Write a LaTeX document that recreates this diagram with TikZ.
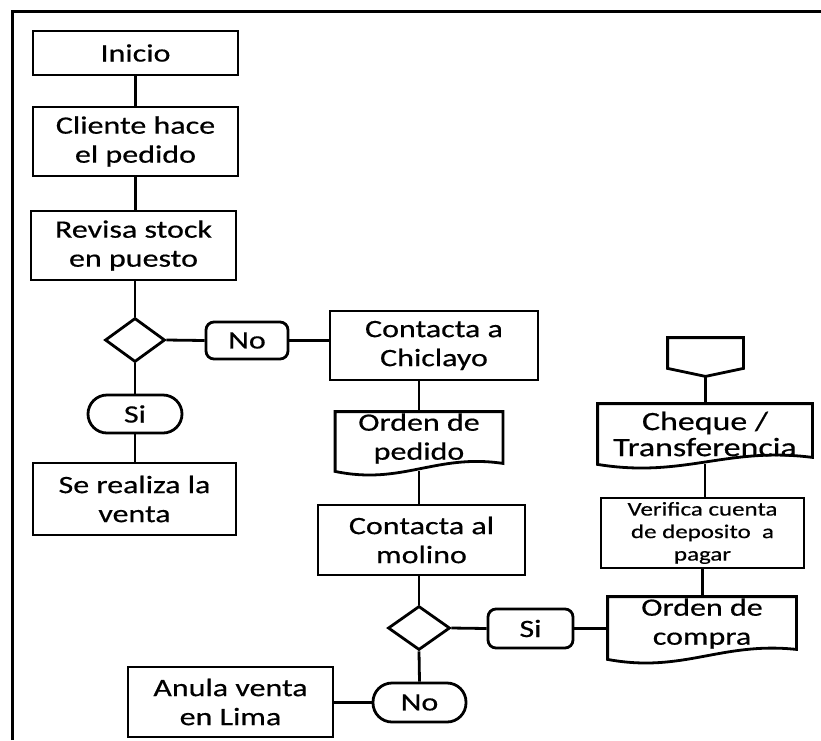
\documentclass[tikz,border=0pt]{standalone}
\usepackage{fontspec}
\setmainfont[FakeStretch=1.28,FakeBold=0.5]{Carlito}
\usetikzlibrary{shapes.geometric,calc}
\newcommand\mainsz{\fontsize{25}{29}\selectfont}
\newcommand\chqsz{\fontsize{26.5}{26}\selectfont}
\newcommand\versz{\fontsize{19.5}{22.5}\selectfont}
\newcommand\mydocshape[2]{%
  \draw (#1.south west) -- (#1.north west) -- (#1.north east) -- ($(#1.south east)+(0,-#2)$)
    .. controls ($(#1.south west)!0.6!(#1.south east)+(0,-18)$) and ($(#1.south west)!0.4!(#1.south east)+(0,14)$) .. (#1.south west) -- cycle;}
\begin{document}
\begin{tikzpicture}[x=1pt,y=-1pt,line width=2.8pt,
  box/.style={draw, rectangle, align=center, inner sep=0pt, font=\mainsz},
  docbox/.style={rectangle, align=center, inner sep=0pt, font=\mainsz},
  dec/.style={draw, diamond, inner sep=0pt, aspect=1.36},
  term/.style={draw, rectangle, rounded corners=19pt, align=center, inner sep=0pt, font=\mainsz, minimum height=38},
  lbl/.style={draw, rectangle, rounded corners=8pt, align=center, inner sep=0pt, font=\mainsz, minimum height=38}]
\useasboundingbox (0,0) rectangle (821,740);
% frame
\draw[line width=3pt] (12,740) -- (12,11) -- (821,11);

% left column
\node[box, minimum width=205, minimum height=44] (ini) at (135.5,53) {Inicio};
\node[box, minimum width=205, minimum height=69] (cli) at (135.5,141.5) {Cliente hace\\el pedido};
\node[box, minimum width=205, minimum height=69] (rev) at (133.5,245.5) {Revisa stock\\en puesto};
\node[dec, minimum width=60, minimum height=44] (d1) at (135,340) {};
\node[lbl, minimum width=82, minimum height=37] (no1) at (247,340.5) {No};
\node[term, minimum width=94] (si1) at (135,414) {Si};
\node[box, minimum width=203, minimum height=72] (venta) at (134.5,499) {Se realiza la\\venta};

% middle column
\node[box, minimum width=208, minimum height=69] (chic) at (434,345.5) {Contacta a\\Chiclayo};
\node[docbox, minimum width=165, minimum height=57, text depth=10pt] (ped) at (419,441.5) {Orden de\\pedido};
\mydocshape{ped}{8}
\node[box, minimum width=207, minimum height=70] (mol) at (421.5,540) {Contacta al\\molino};
\node[dec, minimum width=62, minimum height=44] (d2) at (419,628) {};
\node[lbl, minimum width=85, minimum height=39] (si2) at (530.5,628.5) {Si};
\node[term, minimum width=93, minimum height=39] (no2) at (419.5,702.5) {No};
\node[box, minimum width=205, minimum height=70] (anula) at (230.5,702) {Anula venta\\en Lima};

% right column
\node[inner sep=0pt, minimum width=73, minimum height=36] (off) at (705.5,357) {};
\draw (off.north west) -- (off.north east) -- ($(off.south east)+(0,-8)$) -- (off.south) -- ($(off.south west)+(0,-8)$) -- cycle;
\node[docbox, font=\chqsz, minimum width=212, minimum height=58] (cheq) at (705,434) {Cheque /\\Transferencia};
\mydocshape{cheq}{7}
\node[box, font=\versz, minimum width=203, minimum height=70] (ver) at (702.5,533) {Verifica cuenta\\de deposito~ a\\pagar};
\node[docbox, minimum width=186, minimum height=60, text depth=13pt] (comp) at (702,628) {Orden de\\compra};
\mydocshape{comp}{10}

% connectors
\draw (ini.south) -- (cli.north);
\draw (cli.south) -- (cli.south |- rev.north);
\draw (d1.north |- rev.south) -- (d1.north);
\draw (d1.east) -- (no1.west);
\draw (no1.east) -- (no1.east -| chic.west);
\draw (d1.south) -- (si1.north);
\draw (si1.south) -- (si1.south |- venta.north);
\draw (ped.north |- chic.south) -- (ped.north);
\draw (ped.south) -- (ped.south |- mol.north);
\draw (d2.north |- mol.south) -- (d2.north);
\draw (d2.east) -- (si2.west);
\draw (si2.east) -- (si2.east -| comp.west);
\draw (d2.south) -- (no2.north);
\draw (no2.west) -- (no2.west -| anula.east);
\draw (off.south) -- (off.south |- cheq.north);
\draw (cheq.south) -- (cheq.south |- ver.north);
\draw (ver.south) -- (ver.south |- comp.north);
\end{tikzpicture}
\end{document}
